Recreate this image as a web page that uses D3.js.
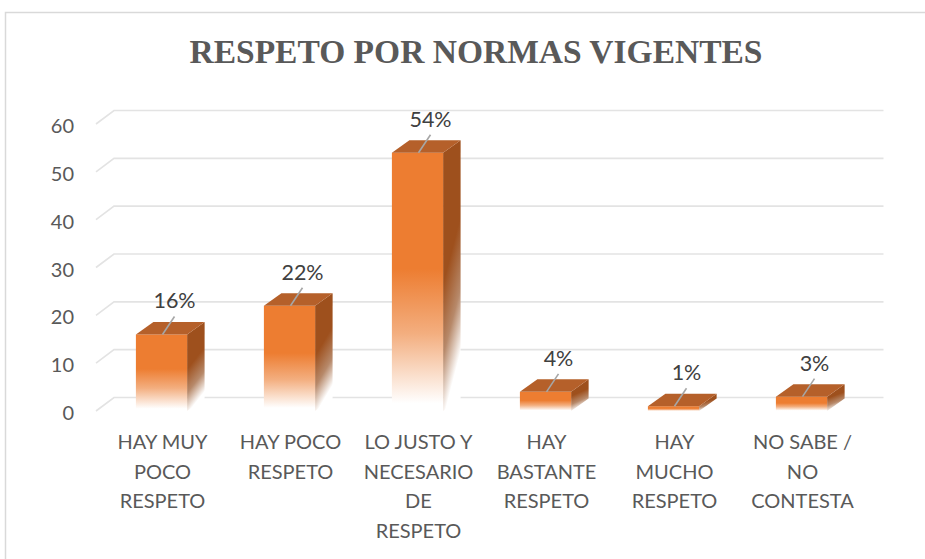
<!DOCTYPE html>
<html><head><meta charset="utf-8">
<script src="https://cdn.jsdelivr.net/npm/d3@7"></script>
<style>body{margin:0;background:#fff;overflow:hidden}</style>
</head><body>
<svg id="c" width="925" height="559"></svg>
<script>
const title = "RESPETO POR NORMAS VIGENTES";
const categories = ["HAY MUY POCO RESPETO", "HAY POCO RESPETO", "LO JUSTO Y NECESARIO DE RESPETO", "HAY BASTANTE RESPETO", "HAY MUCHO RESPETO", "NO SABE / NO CONTESTA"];
const categoryLines = [["HAY MUY","POCO","RESPETO"],["HAY POCO","RESPETO"],["LO JUSTO Y","NECESARIO","DE","RESPETO"],["HAY","BASTANTE","RESPETO"],["HAY","MUCHO","RESPETO"],["NO SABE /","NO","CONTESTA"]];
const values = [16, 22, 54, 4, 1, 3];
const dataLabels = ["16%", "22%", "54%", "4%", "1%", "3%"];
const yTicks = [0, 10, 20, 30, 40, 50, 60];

const svg = d3.select("#c");
const wallDX = 18, wallDY = -13.5;   // depth of the floor/wall
const barDX = 17.5, barDY = -12.5;   // depth of each bar

const x = d3.scaleBand().domain(categories).range([97.5, 865.5]).paddingInner(0.6).paddingOuter(0.3);
const y = d3.scaleLinear().domain([0, 60]).range([411, 124]);

// defs
const defs = svg.append("defs");
const gf = defs.append("linearGradient").attr("id", "gFront").attr("x1", 0).attr("y1", 0).attr("x2", 0).attr("y2", 1);
[[0, "#ED7D31"], [0.45, "#ED7D31"], [0.7, "#F3AE7F"], [0.97, "#ffffff"], [1, "#ffffff"]]
  .forEach(([o, c]) => gf.append("stop").attr("offset", o).attr("stop-color", c));
const gs = defs.append("linearGradient").attr("id", "gSide").attr("x1", 0).attr("y1", 0).attr("x2", 0.25).attr("y2", 1);
[[0, "#9E501D"], [0.5, "#9E501D"], [0.75, "#B7896A"], [0.97, "#ffffff"], [1, "#ffffff"]]
  .forEach(([o, c]) => gs.append("stop").attr("offset", o).attr("stop-color", c));

// border
svg.append("rect").attr("x", 5.5).attr("y", 12.5).attr("width", 1000).attr("height", 1000)
  .attr("fill", "#fff").attr("stroke", "#d9d9d9").attr("stroke-width", 1.5);

// title
svg.append("text").attr("x", 476).attr("y", 63).attr("text-anchor", "middle")
  .attr("font-family", "'Liberation Serif', 'Times New Roman', serif").attr("font-weight", "bold")
  .attr("font-size", 33.5).attr("fill", "#595959").text(title);

// gridlines (back wall + floor diagonal)
const xL = x.range()[0] - 1.5, xR = x.range()[1];
const grid = svg.append("g").attr("stroke", "#e3e3e3").attr("stroke-width", 1.6).attr("fill", "none");
yTicks.forEach(t => {
  const yf = y(t);
  grid.append("path").attr("d", `M${xL},${yf} L${xL + wallDX},${yf + wallDY} L${xR + wallDX},${yf + wallDY}`);
});

// y axis labels
const yAxis = svg.append("g").attr("font-family", "Lato, sans-serif").attr("font-size", 20).attr("fill", "#595959");
yTicks.forEach(t => {
  yAxis.append("text").attr("x", 74).attr("y", y(t) + 1).attr("text-anchor", "end")
    .attr("dominant-baseline", "central").text(t);
});

// bars
const bars = svg.append("g");
categories.forEach((c, i) => {
  const x0 = x(c), x1 = x0 + x.bandwidth();
  const yt = y(values[i]), yb = y(0);
  const g = bars.append("g");
  g.append("path").attr("d", `M${x1},${yt} L${x1 + barDX},${yt + barDY} L${x1 + barDX},${yb + barDY} L${x1},${yb} Z`)
    .attr("fill", "url(#gSide)");
  g.append("rect").attr("x", x0).attr("y", yt).attr("width", x.bandwidth()).attr("height", yb - yt)
    .attr("fill", "url(#gFront)");
  g.append("path").attr("d", `M${x0},${yt} L${x0 + barDX},${yt + barDY} L${x1 + barDX},${yt + barDY} L${x1},${yt} Z`)
    .attr("fill", "#B5602A");
});

// data labels with leader lines
const lab = svg.append("g");
categories.forEach((c, i) => {
  const cx = x(c) + x.bandwidth() / 2 + 1;
  const yt = y(values[i]);
  lab.append("line").attr("x1", cx).attr("y1", yt).attr("x2", cx + 12).attr("y2", yt - 18)
    .attr("stroke", "#a6a6a6").attr("stroke-width", 1.6);
  lab.append("text").attr("x", cx + 12).attr("y", yt - 34).attr("text-anchor", "middle")
    .attr("dominant-baseline", "central").attr("font-family", "Lato, sans-serif").attr("font-size", 21.5)
    .attr("fill", "#404040").text(dataLabels[i]);
});

// category labels
const xAxis = svg.append("g").attr("font-family", "Lato, sans-serif").attr("font-size", 20).attr("fill", "#595959");
categories.forEach((c, i) => {
  const cx = x(c) + x.bandwidth() / 2 + 1;
  const t = xAxis.append("text").attr("text-anchor", "middle");
  categoryLines[i].forEach((ln, k) => {
    t.append("tspan").attr("x", cx).attr("y", 449 + k * 29.5).text(ln);
  });
});
</script>
</body></html>
